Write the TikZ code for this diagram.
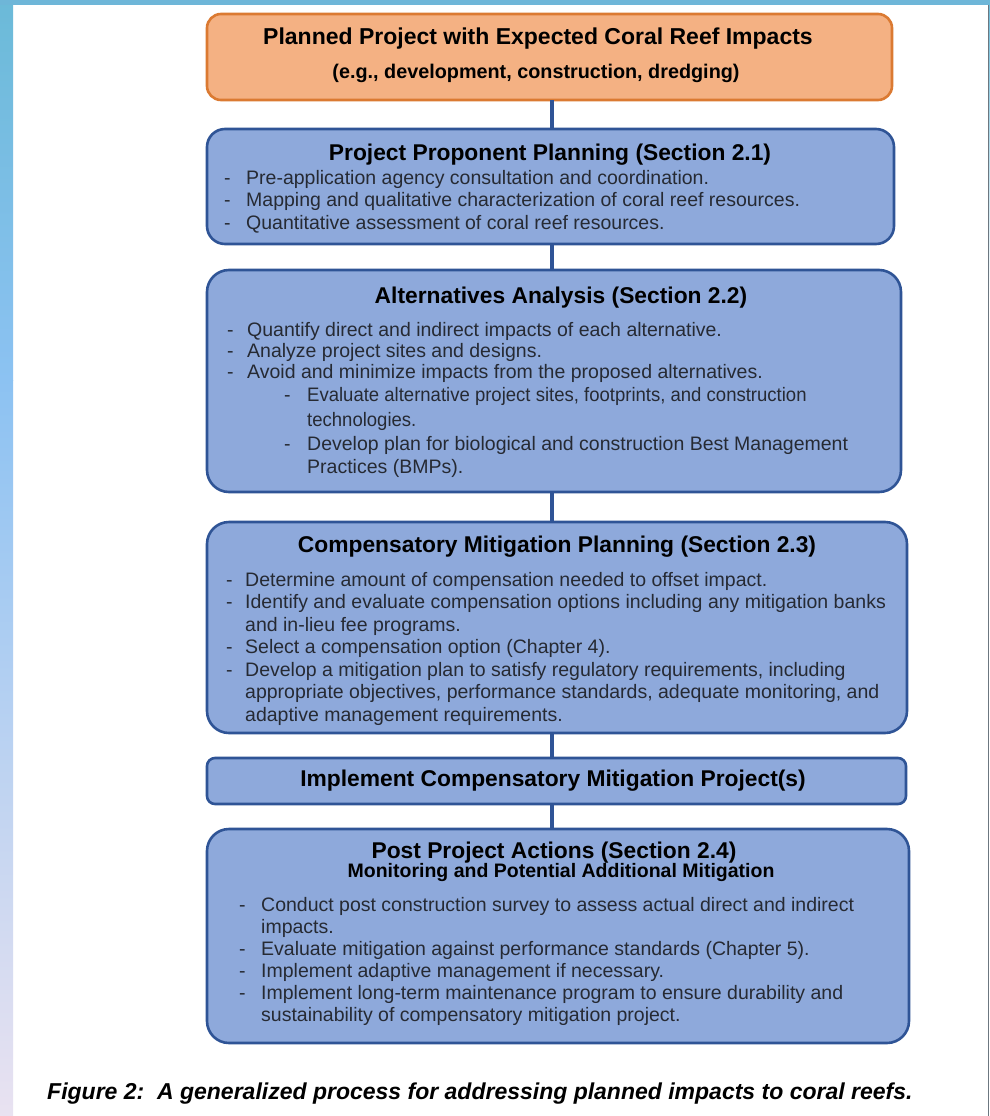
\documentclass[tikz,border=0pt]{standalone}
\usepackage{fontspec}
\usepackage{graphicx}
\setmainfont{Liberation Sans}
\definecolor{boxfill}{HTML}{8EA9DB}
\definecolor{boxline}{HTML}{2F5496}
\definecolor{orfill}{HTML}{F4B183}
\definecolor{orline}{HTML}{DB7A32}
\definecolor{bodytext}{HTML}{262A33}
\definecolor{bandA}{HTML}{6BBAD8}
\definecolor{bandB}{HTML}{8CC2F2}
\definecolor{bandC}{HTML}{E9E2F1}
\definecolor{bandTop}{HTML}{6EB6D8}
\definecolor{edgegray}{HTML}{6C7780}
\newcommand\dsh[1]{\makebox[#1][l]{-}}
\begin{document}
\begin{tikzpicture}[x=1pt,y=-1pt,
  bluebox/.style={draw=boxline, fill=boxfill, line width=2.6pt, rounded corners=#1, inner sep=0pt, outer sep=0pt, anchor=north west},
  bluebox/.default=20pt,
  orbox/.style={draw=orline, fill=orfill, line width=2.6pt, rounded corners=14pt, inner sep=0pt, outer sep=0pt, anchor=north west},
  ttl/.style={anchor=base, inner sep=0pt, font=\bfseries\fontsize{22.8}{26}\selectfont, text=black},
  subttl/.style={anchor=base, inner sep=0pt, font=\bfseries\fontsize{19.5}{23}\selectfont, text=black},
  body/.style={anchor=base west, inner sep=0pt, text=bodytext},
  conn/.style={draw=boxline, line width=4pt}
]
\useasboundingbox (0,0) rectangle (990,1116);
\fill[white] (0,0) rectangle (990,1116);
% frame
\shade[top color=bandA, bottom color=bandB] (0,0) rectangle (13,380);
\shade[top color=bandB, bottom color=bandC] (0,380) rectangle (13,1116);
\fill[bandTop] (0,0) rectangle (990,5.5);
\fill[edgegray] (987.5,5.5) rectangle (989,1116);
\shade[top color=bandA, bottom color=white] (989,0) rectangle (990,300);

% boxes
\node[orbox, minimum width=685pt, minimum height=86pt] (b0) at (207,14) {};
\node[bluebox=18pt, minimum width=687pt, minimum height=115pt] (b1) at (207,129) {};
\node[bluebox=22pt, minimum width=694pt, minimum height=222pt] (b2) at (207,270) {};
\node[bluebox=22pt, minimum width=700pt, minimum height=211pt] (b3) at (207,522) {};
\node[bluebox=8pt, minimum width=699pt, minimum height=46pt] (b4) at (207,758) {};
\node[bluebox=22pt, minimum width=702pt, minimum height=214pt] (b5) at (207,829) {};

% connectors
\coordinate (cx) at (552,0);
\draw[conn] (b0.south -| cx) -- (b1.north -| cx);
\draw[conn] (b1.south -| cx) -- (b2.north -| cx);
\draw[conn] (b2.south -| cx) -- (b3.north -| cx);
\draw[conn] (b3.south -| cx) -- (b4.north -| cx);
\draw[conn] (b4.south -| cx) -- (b5.north -| cx);

% orange box text
\node[anchor=base, inner sep=0pt, font=\bfseries\fontsize{23}{27}\selectfont] (t0) at (538,45) {Planned Project with Expected Coral Reef Impacts};
\node[anchor=base, inner sep=0pt, font=\bfseries\fontsize{19.8}{23}\selectfont] (s0) at (536,78) {(e.g., development, construction, dredging)};

% box 1
\node[ttl] (t1) at (550,160) {Project Proponent Planning (Section 2.1)};
\node[body, font=\fontsize{19.5}{22.5}\selectfont] (x1) at (224,184) {\begin{tabular}[t]{@{}l@{}}
\dsh{22pt}Pre-application agency consultation and coordination.\\
\dsh{22pt}Mapping and qualitative characterization of coral reef resources.\\
\dsh{22pt}Quantitative assessment of coral reef resources.
\end{tabular}};

% box 2
\node[ttl] (t2) at (561,303) {Alternatives Analysis (Section 2.2)};
\node[body, font=\fontsize{19.5}{21.4}\selectfont] (x2) at (227,336) {\begin{tabular}[t]{@{}l@{}}
\dsh{20pt}Quantify direct and indirect impacts of each alternative.\\
\dsh{20pt}Analyze project sites and designs.\\
\dsh{20pt}Avoid and minimize impacts from the proposed alternatives.\\[1.5pt]
\hspace*{57pt}\dsh{23pt}\scalebox{0.95}[1]{Evaluate alternative project sites, footprints, and construction}\\[3.4pt]
\hspace*{80pt}\scalebox{0.95}[1]{technologies.}\\[2.4pt]
\hspace*{57pt}\dsh{23pt}Develop plan for biological and construction Best Management\\[1.6pt]
\hspace*{80pt}Practices (BMPs).
\end{tabular}};

% box 3
\node[ttl] (t3) at (557,552) {Compensatory Mitigation Planning (Section 2.3)};
\node[body, font=\fontsize{19.5}{22.5}\selectfont] (x3) at (226,586) {\begin{tabular}[t]{@{}l@{}}
\dsh{19pt}Determine amount of compensation needed to offset impact.\\
\dsh{19pt}Identify and evaluate compensation options including any mitigation banks\\
\hspace*{19pt}and in-lieu fee programs.\\
\dsh{19pt}Select a compensation option (Chapter 4).\\
\dsh{19pt}Develop a mitigation plan to satisfy regulatory requirements, including\\
\hspace*{19pt}appropriate objectives, performance standards, adequate monitoring, and\\
\hspace*{19pt}adaptive management requirements.
\end{tabular}};

% box 4
\node[ttl] (t4) at (553,786) {Implement Compensatory Mitigation Project(s)};

% box 5
\node[ttl] (t5) at (554,858) {Post Project Actions (Section 2.4)};
\node[subttl] (s5) at (561,877) {Monitoring and Potential Additional Mitigation};
\node[body, font=\fontsize{19.5}{22}\selectfont] (x5) at (239,911) {\begin{tabular}[t]{@{}l@{}}
\dsh{22pt}Conduct post construction survey to assess actual direct and indirect\\
\hspace*{22pt}impacts.\\
\dsh{22pt}Evaluate mitigation against performance standards (Chapter 5).\\
\dsh{22pt}Implement adaptive management if necessary.\\
\dsh{22pt}Implement long-term maintenance program to ensure durability and\\
\hspace*{22pt}sustainability of compensatory mitigation project.
\end{tabular}};

% caption
\node[anchor=base west, inner sep=0pt, font=\bfseries\itshape\fontsize{23}{27}\selectfont] (cap) at (47,1099) {Figure 2:\ \ A generalized process for addressing planned impacts to coral reefs.};
\end{tikzpicture}
\end{document}
